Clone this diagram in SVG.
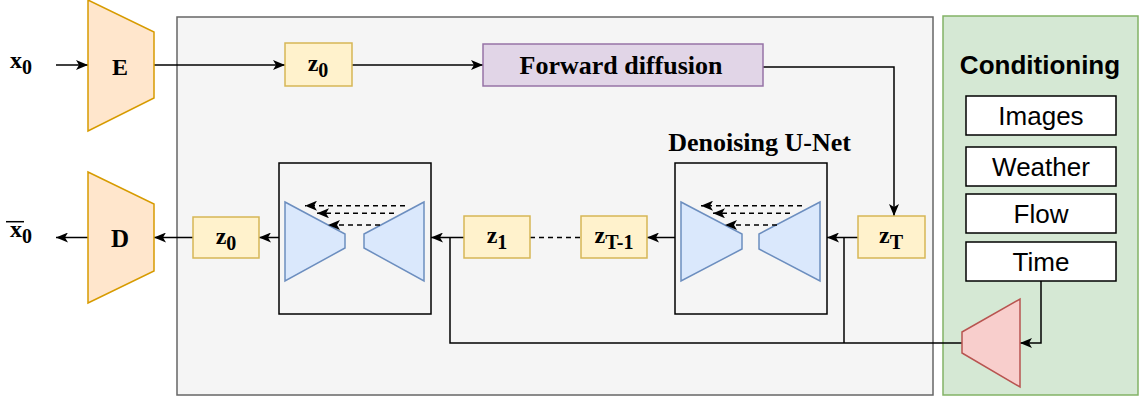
<svg xmlns="http://www.w3.org/2000/svg" width="1139" height="397" viewBox="0 0 1139 397">
<defs>
<style>
.serif{font-family:"Liberation Serif","Times New Roman",serif;font-weight:bold;fill:#000}
.sans{font-family:"Liberation Sans",Arial,sans-serif;fill:#000}
.ln{fill:none;stroke:#000;stroke-width:1.5}
.dash{fill:none;stroke:#000;stroke-width:1.5;stroke-dasharray:5 4}
.latent{fill:#fff2cc;stroke:#d6b656;stroke-width:1.5}
.coder{fill:#ffe6cc;stroke:#d79b00;stroke-width:1.5}
.unet{fill:#dae8fc;stroke:#6c8ebf;stroke-width:1.5}
.cond{fill:#fff;stroke:#000;stroke-width:1.5}
.frame{fill:none;stroke:#000;stroke-width:1.5}
</style>
<marker id="arr" viewBox="0 0 12 10" refX="12" refY="5" markerWidth="12" markerHeight="10" markerUnits="userSpaceOnUse" orient="auto">
<path d="M0,0 L12,5 L0,10 L3,5 Z" fill="#000"/>
</marker>
</defs>

<rect id="latent-space" x="177" y="17" width="756" height="378" fill="#f5f5f5" stroke="#666" stroke-width="1.5"/>
<rect id="conditioning-panel" x="943" y="16" width="195" height="379" fill="#d5e8d4" stroke="#82b366" stroke-width="1.5"/>

<g id="connectors">
<line class="ln" x1="56" y1="65" x2="88" y2="65" marker-end="url(#arr)"/>
<line class="ln" x1="154" y1="65" x2="285" y2="65" marker-end="url(#arr)"/>
<line class="ln" x1="352" y1="65" x2="483" y2="65" marker-end="url(#arr)"/>
<path class="ln" d="M763,67 H894 V216" marker-end="url(#arr)"/>
<line class="ln" x1="858" y1="237.5" x2="827" y2="237.5" marker-end="url(#arr)"/>
<line class="ln" x1="675" y1="237.5" x2="647" y2="237.5" marker-end="url(#arr)"/>
<line class="dash" x1="530" y1="237.5" x2="581" y2="237.5"/>
<line class="ln" x1="464" y1="237.5" x2="431" y2="237.5" marker-end="url(#arr)"/>
<line class="ln" x1="279" y1="237.5" x2="259" y2="237.5" marker-end="url(#arr)"/>
<line class="ln" x1="193" y1="237.5" x2="154" y2="237.5" marker-end="url(#arr)"/>
<line class="ln" x1="88" y1="237.5" x2="56" y2="237.5" marker-end="url(#arr)"/>
<path class="ln" d="M962,343 H450 V237.5"/>
<path class="ln" d="M844,343 V237.5"/>
<path class="ln" d="M1041,281 V343 H1020" marker-end="url(#arr)"/>
</g>

<g id="x0">
<text class="serif" x="10" y="68" font-size="24">x<tspan font-size="20" dy="6">0</tspan></text>
</g>
<g id="x0-bar">
<line x1="6" y1="221.7" x2="24" y2="221.7" stroke="#000" stroke-width="1.5"/>
<text class="serif" x="10" y="237" font-size="24">x<tspan font-size="20" dy="6">0</tspan></text>
</g>

<g id="encoder">
<polygon class="coder" points="88,0 154,32 154,98 88,131"/>
<text class="serif" x="120" y="75" font-size="24" text-anchor="middle">E</text>
</g>
<g id="decoder">
<polygon class="coder" points="88,172 154,204 154,271 88,303"/>
<text class="serif" x="120" y="246.5" font-size="25" text-anchor="middle">D</text>
</g>

<g id="z0-top">
<rect class="latent" x="285" y="43" width="67" height="43"/>
<text class="serif" x="318" y="70.5" font-size="24" text-anchor="middle">z<tspan font-size="20" dy="6">0</tspan></text>
</g>

<g id="forward-diffusion">
<rect x="483" y="44" width="280" height="42" fill="#e1d5e7" stroke="#9673a6" stroke-width="1.5"/>
<text class="serif" x="621" y="74" font-size="26" text-anchor="middle">Forward diffusion</text>
</g>

<g id="zT">
<rect class="latent" x="858" y="216" width="67" height="42"/>
<text class="serif" x="891" y="243" font-size="24" text-anchor="middle">z<tspan font-size="20" dy="6">T</tspan></text>
</g>

<g id="unet-right">
<text class="serif" x="759.5" y="150.5" font-size="26" text-anchor="middle">Denoising U-Net</text>
<rect class="frame" x="675" y="163" width="152" height="151"/>
<polygon class="unet" points="681,202 742,234 742,249 681,281"/>
<polygon class="unet" points="820,202 759,234 759,249 820,281"/>
<line class="dash" x1="802" y1="205.7" x2="701" y2="205.7" marker-end="url(#arr)"/>
<line class="dash" x1="790" y1="213.3" x2="713" y2="213.3" marker-end="url(#arr)"/>
<line class="dash" x1="777" y1="225" x2="725" y2="225" marker-end="url(#arr)"/>
</g>

<g id="zT-1">
<rect class="latent" x="581" y="216" width="66" height="42"/>
<text class="serif" x="614" y="243" font-size="24" text-anchor="middle">z<tspan font-size="20" dy="6">T-1</tspan></text>
</g>

<g id="z1">
<rect class="latent" x="464" y="216" width="66" height="42"/>
<text class="serif" x="497" y="243" font-size="24" text-anchor="middle">z<tspan font-size="20" dy="6">1</tspan></text>
</g>

<g id="unet-left">
<rect class="frame" x="279" y="163" width="152" height="151"/>
<polygon class="unet" points="285,202 345,234 345,248 285,281"/>
<polygon class="unet" points="424,202 364,234 364,248 424,281"/>
<line class="dash" x1="405" y1="205.7" x2="305" y2="205.7" marker-end="url(#arr)"/>
<line class="dash" x1="394" y1="213.3" x2="317" y2="213.3" marker-end="url(#arr)"/>
<line class="dash" x1="380" y1="225" x2="328" y2="225" marker-end="url(#arr)"/>
</g>

<g id="z0-bottom">
<rect class="latent" x="193" y="217" width="66" height="41"/>
<text class="serif" x="226" y="243.5" font-size="24" text-anchor="middle">z<tspan font-size="20" dy="6">0</tspan></text>
</g>

<g id="conditioning">
<text class="sans" x="1040" y="74" font-size="26" font-weight="bold" text-anchor="middle">Conditioning</text>
</g>
<g id="cond-images">
<rect class="cond" x="966" y="96" width="150" height="39"/>
<text class="sans" x="1041" y="124.5" font-size="26" text-anchor="middle">Images</text>
</g>
<g id="cond-weather">
<rect class="cond" x="966" y="147" width="150" height="39"/>
<text class="sans" x="1041" y="175.5" font-size="26" text-anchor="middle">Weather</text>
</g>
<g id="cond-flow">
<rect class="cond" x="966" y="194" width="150" height="39"/>
<text class="sans" x="1041" y="222.5" font-size="26" text-anchor="middle">Flow</text>
</g>
<g id="cond-time">
<rect class="cond" x="966" y="242" width="150" height="39"/>
<text class="sans" x="1041" y="270.5" font-size="26" text-anchor="middle">Time</text>
</g>
<g id="cond-encoder">
<polygon points="962,332 1020,299 1020,387 962,353" fill="#f8cecc" stroke="#b85450" stroke-width="1.5"/>
</g>
</svg>
